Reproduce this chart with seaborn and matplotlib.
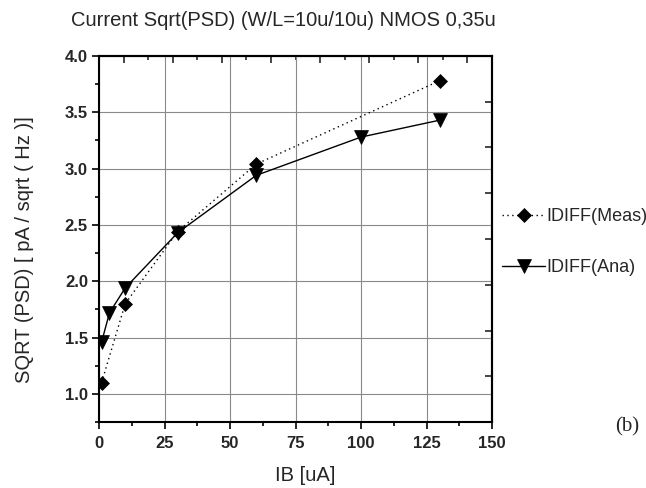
import numpy as np
import pandas as pd
import matplotlib
matplotlib.use("Agg")
import matplotlib.pyplot as plt
from matplotlib.ticker import MultipleLocator, FixedLocator, NullFormatter
import seaborn as sns

# values
MEAS_IB = [1, 10, 30, 60, 130]
MEAS_SQRT_PSD = [1.10, 1.80, 2.44, 3.04, 3.78]
ANA_IB = [1, 4, 10, 30, 60, 100, 130]
ANA_SQRT_PSD = [1.46, 1.72, 1.94, 2.43, 2.94, 3.28, 3.43]
SERIES = ["IDIFF(Meas)", "IDIFF(Ana)"]

TITLE = "Current Sqrt(PSD) (W/L=10u/10u) NMOS 0,35u"
XLABEL = "IB [uA]"
YLABEL = "SQRT (PSD) [ pA / sqrt ( Hz )]"
X_TICKS = [0, 25, 50, 75, 100, 125, 150]
Y_TICKS = [1.0, 1.5, 2.0, 2.5, 3.0, 3.5, 4.0]

# build long-form table for seaborn
plot_df = pd.concat([
    pd.DataFrame({"ib": MEAS_IB, "val": MEAS_SQRT_PSD, "series": SERIES[0]}),
    pd.DataFrame({"ib": ANA_IB, "val": ANA_SQRT_PSD, "series": SERIES[1]}),
], ignore_index=True)

sns.set_style("ticks")
plt.rcParams["font.family"] = ["Liberation Sans", "DejaVu Sans"]

fig = plt.figure(figsize=(6.46, 4.88), dpi=100)
ax = fig.add_axes([99 / 646, 66 / 488, 393 / 646, 366 / 488])

sns.lineplot(
    data=plot_df, x="ib", y="val",
    hue="series", style="series", hue_order=SERIES, style_order=SERIES,
    palette=["black", "black"],
    markers={SERIES[0]: "D", SERIES[1]: "v"},
    dashes={SERIES[0]: (1, 2.5), SERIES[1]: ""},
    errorbar=None, legend=False, ax=ax,
    linewidth=1.0, markeredgecolor="black", markeredgewidth=0.5,
)
series_lines = ax.lines[:2]
series_lines[0].set_markersize(7)
series_lines[1].set_markersize(9.5)

ax.set_xlim(0, 150)
ax.set_ylim(0.75, 4.0)
ax.set_xticks(X_TICKS)
ax.set_yticks(Y_TICKS)
ax.xaxis.set_minor_locator(MultipleLocator(12.5))
ax.yaxis.set_minor_locator(MultipleLocator(0.25))
ax.set_xticklabels([str(t) for t in X_TICKS], fontweight="bold", fontsize=12)
ax.set_yticklabels([f"{t:.1f}" for t in Y_TICKS], fontweight="bold", fontsize=12)
ax.tick_params(which="major", direction="out", length=5, width=1.2, color="black", pad=3)
ax.tick_params(axis="x", which="major", pad=5)
ax.tick_params(which="minor", direction="out", length=3, width=1.2, color="black")
ax.grid(True, which="major", color="#8a8a8a", linewidth=0.8)
for sp in ax.spines.values():
    sp.set_visible(True)
    sp.set_linewidth(1.5)
    sp.set_color("black")

# top and right axes carry their own inward ticks
top = ax.secondary_xaxis("top")
top.xaxis.set_major_locator(FixedLocator(np.arange(1, 16, 2) * 150 / 16))
top.xaxis.set_minor_locator(FixedLocator(np.arange(2, 16, 2) * 150 / 16))
top.xaxis.set_major_formatter(NullFormatter())
top.tick_params(which="major", direction="in", length=5, width=1.2)
top.tick_params(which="minor", direction="in", length=3, width=1.2)
top.spines["top"].set_linewidth(1.5)

right = ax.secondary_yaxis("right")
right.yaxis.set_major_locator(FixedLocator(0.75 + np.arange(1, 8) * 3.25 / 8))
right.yaxis.set_major_formatter(NullFormatter())
right.tick_params(which="major", direction="in", length=5, width=1.2)
right.spines["right"].set_linewidth(1.5)

ax.set_xlabel(XLABEL, fontsize=14.5)
ax.set_ylabel(YLABEL, fontsize=14.5)
ax.xaxis.set_label_coords(0.524, -0.12)
ax.yaxis.set_label_coords(-0.165, 0.47)

ax.legend(
    series_lines, SERIES, loc="center left",
    bbox_to_anchor=(502 / 646, 1 - 242 / 488), bbox_transform=fig.transFigure,
    frameon=False, fontsize=13, handlelength=2.4, handletextpad=0.05,
    labelspacing=1.9, borderpad=0, borderaxespad=0,
)

fig.text(283 / 646, 1 - 20 / 488, TITLE, ha="center", va="center", fontsize=14.5)
fig.text(627 / 646, 1 - 427 / 488, "(b)", ha="center", va="center",
         fontsize=15, family=["Liberation Serif", "DejaVu Serif"])

fig.savefig("out.png", dpi=100)
